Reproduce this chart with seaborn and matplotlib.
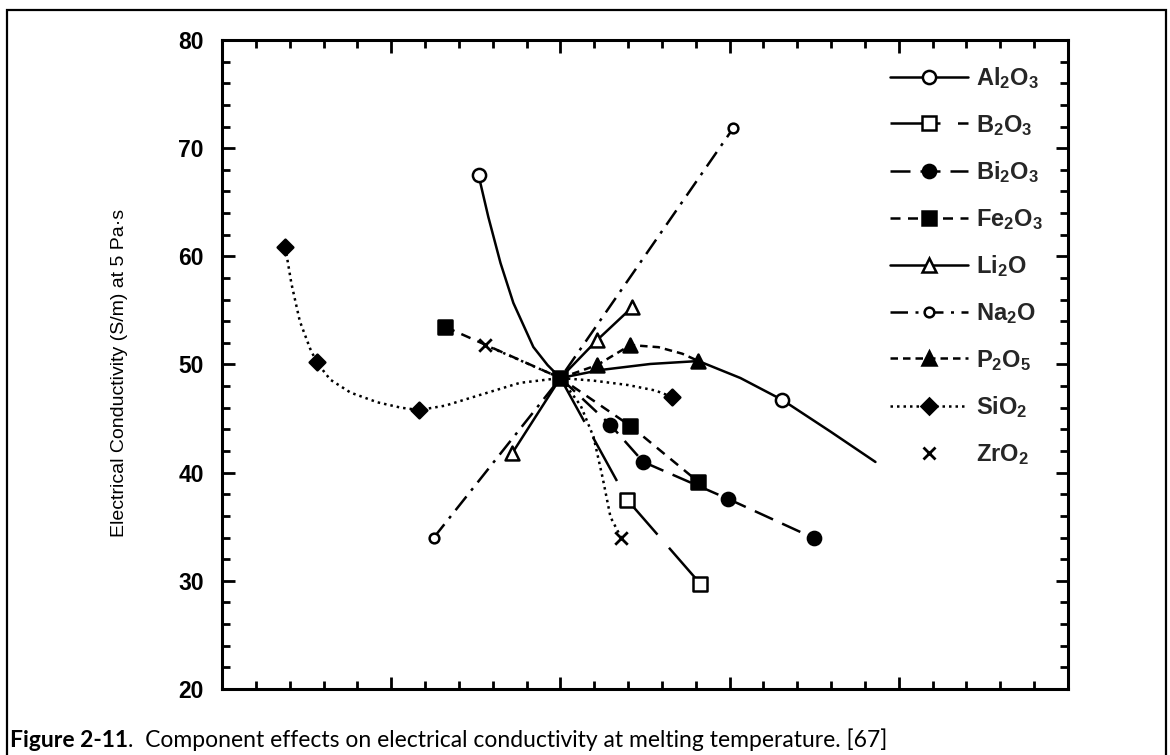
import matplotlib
matplotlib.use("Agg")
import matplotlib.pyplot as plt
from matplotlib.lines import Line2D
from matplotlib.patches import Rectangle
from matplotlib.ticker import MultipleLocator, NullFormatter
import seaborn as sns

sns.set_theme(style="white")
plt.rcParams["font.family"] = ["Liberation Sans", "DejaVu Sans"]
plt.rcParams["mathtext.fontset"] = "custom"
plt.rcParams["mathtext.rm"] = "Liberation Sans:bold"
plt.rcParams["mathtext.default"] = "rm"

# ---- data: component mass-fraction change vs. conductivity (S/m) ----
# each series: curve vertices (line) and measured points (markers)
al2o3_line_x = [-0.0242, -0.0213, -0.0177, -0.0139, -0.0080, -0.0038, 0.0,
                0.0118, 0.0266, 0.0408, 0.0532, 0.0656, 0.0798, 0.0931]
al2o3_line_y = [67.52, 63.64, 59.38, 55.69, 51.62, 49.95, 48.75,
                49.49, 50.05, 50.32, 48.75, 46.72, 43.80, 40.99]
al2o3_pt_x = [-0.0242, 0.0656]
al2o3_pt_y = [67.52, 46.72]

b2o3_line_x = [0.0, 0.0198, 0.0414]
b2o3_line_y = [48.75, 37.47, 29.71]
b2o3_pt_x = [0.0198, 0.0414]
b2o3_pt_y = [37.47, 29.71]

bi2o3_line_x = [0.0, 0.0148, 0.0245, 0.0496, 0.0748]
bi2o3_line_y = [48.75, 44.41, 40.99, 37.57, 33.96]
bi2o3_pt_x = [0.0148, 0.0245, 0.0496, 0.0748]
bi2o3_pt_y = [44.41, 40.99, 37.57, 33.96]

fe2o3_line_x = [-0.0340, 0.0, 0.0207, 0.0408]
fe2o3_line_y = [53.47, 48.75, 44.32, 39.14]
fe2o3_pt_x = [-0.0340, 0.0, 0.0207, 0.0408]
fe2o3_pt_y = [53.47, 48.75, 44.32, 39.14]

li2o_line_x = [-0.0142, 0.0, 0.0109, 0.0213]
li2o_line_y = [41.82, 48.75, 52.27, 55.32]
li2o_pt_x = [-0.0142, 0.0109, 0.0213]
li2o_pt_y = [41.82, 52.27, 55.32]

na2o_line_x = [-0.0375, 0.0, 0.0511]
na2o_line_y = [33.96, 48.75, 71.86]
na2o_pt_x = [-0.0375, 0.0511]
na2o_pt_y = [33.96, 71.86]

p2o5_line_x = [0.0, 0.0109, 0.0207, 0.0290, 0.0360, 0.0408]
p2o5_line_y = [48.75, 49.95, 51.80, 51.60, 51.00, 50.32]
p2o5_pt_x = [0.0109, 0.0207, 0.0408]
p2o5_pt_y = [49.95, 51.80, 50.32]

sio2_line_x = [-0.0813, -0.0795, -0.0770, -0.0740, -0.0720, -0.0680, -0.0620,
               -0.0540, -0.0470, -0.0417, -0.0340, -0.0236, -0.0120, 0.0,
               0.0100, 0.0200, 0.0280, 0.0331]
sio2_line_y = [60.86, 57.50, 54.00, 51.50, 50.20, 48.60, 47.40,
               46.50, 46.00, 45.79, 46.20, 47.20, 48.30, 48.75,
               48.50, 48.10, 47.60, 47.00]
sio2_pt_x = [-0.0813, -0.0720, -0.0417, 0.0331]
sio2_pt_y = [60.86, 50.20, 45.79, 47.00]

zro2_line_x = [-0.0222, 0.0, 0.0060, 0.0098, 0.0125, 0.0148, 0.0180]
zro2_line_y = [51.80, 48.75, 46.20, 43.30, 39.50, 35.90, 33.96]
zro2_pt_x = [-0.0222, 0.0180]
zro2_pt_y = [51.80, 33.96]

labels = ["Al$_2$O$_3$", "B$_2$O$_3$", "Bi$_2$O$_3$", "Fe$_2$O$_3$", "Li$_2$O",
          "Na$_2$O", "P$_2$O$_5$", "SiO$_2$", "ZrO$_2$"]
y_ticks = [20, 30, 40, 50, 60, 70, 80]
y_label = "Electrical Conductivity (S/m) at 5 Pa\u00b7s"
caption_bold = "Figure 2-11"
caption_rest = ".  Component effects on electrical conductivity at melting temperature. [67]"

# ---- styles ----
INK = "black"
LW = 1.8
styles = [
    dict(ls="-", marker="o", fc="white", ms=9.5),
    dict(ls=(0, (20, 7)), marker="s", fc="white", ms=9.5),
    dict(ls=(0, (8, 4)), marker="o", fc=INK, ms=9.5),
    dict(ls=(0, (4, 3)), marker="s", fc=INK, ms=9.5),
    dict(ls="-", marker="^", fc="white", ms=10),
    dict(ls=(0, (7, 3, 1.2, 3)), marker="o", fc="white", ms=7),
    dict(ls=(0, (3, 2)), marker="^", fc=INK, ms=10),
    dict(ls=(0, (1, 1.6)), marker="D", fc=INK, ms=8),
    dict(ls=(0, (1, 1.6)), marker="x", fc=INK, ms=9),
]
series = [
    (al2o3_line_x, al2o3_line_y, al2o3_pt_x, al2o3_pt_y),
    (b2o3_line_x, b2o3_line_y, b2o3_pt_x, b2o3_pt_y),
    (bi2o3_line_x, bi2o3_line_y, bi2o3_pt_x, bi2o3_pt_y),
    (fe2o3_line_x, fe2o3_line_y, fe2o3_pt_x, fe2o3_pt_y),
    (li2o_line_x, li2o_line_y, li2o_pt_x, li2o_pt_y),
    (na2o_line_x, na2o_line_y, na2o_pt_x, na2o_pt_y),
    (p2o5_line_x, p2o5_line_y, p2o5_pt_x, p2o5_pt_y),
    (sio2_line_x, sio2_line_y, sio2_pt_x, sio2_pt_y),
    (zro2_line_x, zro2_line_y, zro2_pt_x, zro2_pt_y),
]

W, H = 1170, 755
fig = plt.figure(figsize=(W / 100, H / 100), dpi=100)
fig.patch.set_facecolor("white")
ax = fig.add_axes([222 / W, 1 - 689 / H, 846 / W, 649 / H])
ax.set_facecolor("white")

for (lx, ly, px, py), st in zip(series, styles):
    sns.lineplot(x=lx, y=ly, sort=False, estimator=None, ax=ax, color=INK,
                 linewidth=LW, linestyle=st["ls"], zorder=2)
    if st["marker"] == "x":
        sns.scatterplot(x=px, y=py, ax=ax, marker="x", color=INK,
                        s=st["ms"] ** 2, linewidth=2.0, zorder=3)
    else:
        sns.scatterplot(x=px, y=py, ax=ax, marker=st["marker"], facecolor=st["fc"],
                        edgecolor=INK, s=st["ms"] ** 2, linewidth=1.8, zorder=3)

ax.set_xlim(-0.10, 0.15)
ax.set_ylim(20, 80)
ax.xaxis.set_major_locator(MultipleLocator(0.05))
ax.xaxis.set_minor_locator(MultipleLocator(0.01))
ax.xaxis.set_major_formatter(NullFormatter())
ax.set_yticks(y_ticks)
ax.yaxis.set_minor_locator(MultipleLocator(2))
ax.tick_params(which="both", direction="in", top=True, right=True, bottom=True,
               left=True, width=2, color=INK)
ax.tick_params(which="major", length=9)
ax.tick_params(which="minor", length=5.5)
ax.tick_params(axis="y", which="major", labelsize=16.5, pad=13, labelcolor=INK)
for t in ax.get_yticklabels():
    t.set_fontweight("bold")
for sp in ax.spines.values():
    sp.set_visible(True)
    sp.set_color(INK)
    sp.set_linewidth(2.2)
ax.grid(False)

ax.set_ylabel(y_label, fontsize=14, color=INK)
ax.yaxis.set_label_coords((128 - 222) / 846, 0.487)

handles = []
for st in styles:
    if st["marker"] == "x":
        handles.append(Line2D([], [], linestyle="none", marker="x", color=INK,
                              markersize=st["ms"], markeredgewidth=2.0))
    else:
        handles.append(Line2D([], [], color=INK, linewidth=LW, linestyle=st["ls"],
                              marker=st["marker"], markersize=st["ms"],
                              markerfacecolor=st["fc"], markeredgecolor=INK,
                              markeredgewidth=1.8))
ax.legend(handles, labels, loc="upper left", bbox_to_anchor=(890 / W, 1 - 65 / H),
          bbox_transform=fig.transFigure, frameon=False, handlelength=3.3,
          handletextpad=0.35, labelspacing=0.92, borderpad=0, borderaxespad=0,
          prop={"weight": "bold", "size": 17})

# outer frame around figure and caption
fig.add_artist(Rectangle((7 / W, -0.05), (1166 - 7) / W, 1.05 - 10 / H,
                         transform=fig.transFigure, fill=False, lw=1.6,
                         edgecolor=INK))

fig.canvas.draw()
renderer = fig.canvas.get_renderer()
cap_y = 1 - 747 / H
t1 = fig.text(10 / W, cap_y, caption_bold, fontsize=16.5, fontweight="bold",
              family=["Lato", "DejaVu Sans"], va="baseline", color=INK)
bb = t1.get_window_extent(renderer)
fig.text(bb.x1 / W, cap_y, caption_rest, fontsize=16.5,
         family=["Lato", "DejaVu Sans"], va="baseline", color=INK)

fig.savefig("out.png", dpi=100)
